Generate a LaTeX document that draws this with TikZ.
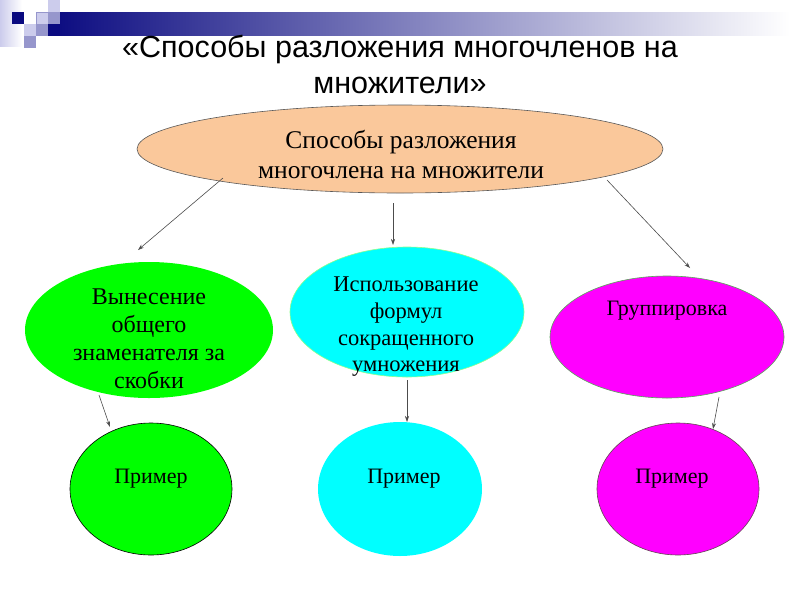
\documentclass[tikz,border=0pt]{standalone}
\usepackage{fontspec}
\setmainfont{Liberation Serif}
\newfontfamily\titlefont{Liberation Sans}
\usetikzlibrary{shapes.geometric,arrows.meta}
\definecolor{navy}{RGB}{10,10,128}
\definecolor{lav}{RGB}{204,204,236}
\definecolor{lavm}{RGB}{150,150,204}
\definecolor{peach}{RGB}{250,200,155}
\definecolor{cyanb}{RGB}{0,255,255}
\definecolor{greenb}{RGB}{0,255,0}
\definecolor{magb}{RGB}{255,0,255}
\begin{document}
\begin{tikzpicture}[x=1pt,y=-1pt,
  oval/.style={ellipse, inner sep=0pt, line width=0.6pt},
  conn/.style={draw=black!70, line width=0.6pt, -{Stealth[length=6pt,width=4pt]}},
  mtext/.style={font=\fontsize{22}{28}\selectfont, align=center, inner sep=0pt},
  sq/.style={line width=0.3pt}]
\useasboundingbox (0,0) rectangle (800,600);
\fill[white] (0,0) rectangle (800,600);
% decoration
\shade[left color=lav, right color=white] (0,0) rectangle (22,46);
\shade[left color=navy, right color=white] (48,12) rectangle (790,35);
\fill[navy] (12,12) rectangle (24,24);
\fill[lav] (48,0) rectangle (60,12);
\filldraw[fill=lav, draw=lavm, sq] (36,12) rectangle (48,24);
\fill[lavm] (48,12) rectangle (60,24);
\fill[lav] (24,24) rectangle (36,36);
\fill[lavm] (36,24) rectangle (48,36);
\fill[navy] (48,24) rectangle (60,36);
\fill[lavm] (24,36) rectangle (36,48);
% title
\node[font=\titlefont\fontsize{30.5}{36}\selectfont, align=center, inner sep=0pt] (title) at (400,64)
  {«Способы разложения многочленов на\\множители»};
% top ellipse
\node[oval, fill=peach, draw=black!65, minimum width=526, minimum height=88] (top) at (400,149) {};
\node[font=\fontsize{25.5}{30}\selectfont, align=center, inner sep=0pt] (toptext) at (401,154)
  {Способы разложения\\многочлена на множители};
% middle ellipses
\node[oval, fill=greenb, minimum width=248, minimum height=136] (g1) at (149,330) {};
\node[mtext, font=\fontsize{24}{28}\selectfont] (g1t) at (149,339) {Вынесение\\общего\\знаменателя за\\скобки};
\node[oval, fill=cyanb, draw=green!45, minimum width=234, minimum height=130] (c1) at (407,312) {};
\node[mtext, font=\fontsize{22.5}{26.7}\selectfont] (c1t) at (406,327) {Использование\\формул\\сокращенного\\умножения};
\node[oval, fill=magb, draw=gray!70!green, minimum width=234, minimum height=122] (m1) at (667,337) {};
\node[mtext, anchor=base] (m1t) at (667,315) {Группировка};
% bottom ellipses
\node[oval, fill=greenb, draw=black, minimum width=162, minimum height=132] (g2) at (151,489) {};
\node[mtext, anchor=base] (g2t) at (151,483) {Пример};
\node[oval, fill=cyanb, minimum width=164, minimum height=134] (c2) at (400,489) {};
\node[mtext, anchor=base] (c2t) at (404,483) {Пример};
\node[oval, fill=magb, draw=black!70!magenta, minimum width=162, minimum height=132] (m2) at (678,489) {};
\node[mtext, anchor=base] (m2t) at (672,483) {Пример};
% connectors
\coordinate (a1s) at (223,178); \coordinate (a1e) at (138,250);
\coordinate (a2s) at (393,203); \coordinate (a2e) at (393,245);
\coordinate (a3s) at (607,180); \coordinate (a3e) at (690,268);
\coordinate (b1s) at (99,395);  \coordinate (b1e) at (110,427);
\coordinate (b2s) at (407,380); \coordinate (b2e) at (407,422);
\coordinate (b3s) at (719,397); \coordinate (b3e) at (713,429);
\draw[conn] (a1s) -- (a1e);
\draw[conn] (a2s) -- (a2e);
\draw[conn] (a3s) -- (a3e);
\draw[conn] (b1s) -- (b1e);
\draw[conn] (b2s) -- (b2e);
\draw[conn] (b3s) -- (b3e);
\end{tikzpicture}
\end{document}
